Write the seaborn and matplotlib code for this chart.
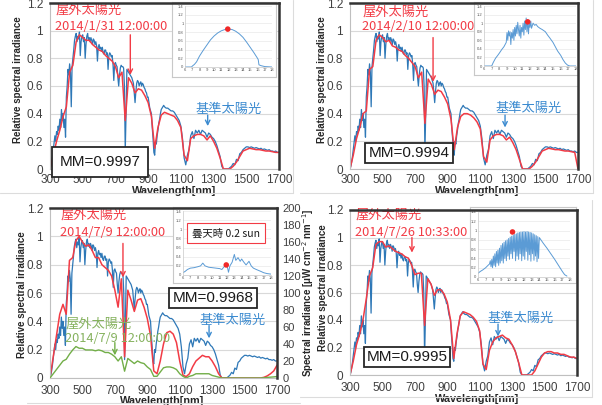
import matplotlib
matplotlib.use('Agg')
import matplotlib.pyplot as plt
import seaborn as sns
from matplotlib.lines import Line2D

sns.set_theme(style='white')
plt.rcParams['font.family'] = ['Liberation Sans', 'DejaVu Sans']
JP = ['Noto Sans CJK JP', 'DejaVu Sans']

# ---- data -------------------------------------------------------------
# reference spectrum (AM1.5, normalised): 5 nm steps to 995 nm, then 10 nm steps
WL_REF = list(range(300, 1000, 5)) + list(range(1000, 1701, 10))
REF = [0.00, 0.02, 0.05, 0.09, 0.14, 0.19, 0.24, 0.20, 0.27, 0.25,
       0.31, 0.28, 0.36, 0.30, 0.43, 0.35, 0.40, 0.30, 0.36, 0.23,
       0.52, 0.60, 0.72, 0.68, 0.76, 0.70, 0.45, 0.74, 0.80, 0.86,
       0.93, 0.96, 0.98, 0.92, 0.96, 0.94, 0.99, 0.82, 0.92, 0.96,
       0.97, 0.92, 0.95, 0.80, 0.90, 0.96, 0.98, 0.93, 0.95, 0.92,
       0.95, 0.93, 0.90, 0.94, 0.93, 0.90, 0.92, 0.89, 0.78, 0.88,
       0.90, 0.87, 0.88, 0.85, 0.88, 0.84, 0.83, 0.86, 0.86, 0.83,
       0.84, 0.72, 0.82, 0.84, 0.83, 0.81, 0.82, 0.76, 0.64, 0.76,
       0.77, 0.75, 0.74, 0.66, 0.60, 0.68, 0.73, 0.75, 0.74, 0.74,
       0.73, 0.60, 0.13, 0.40, 0.72, 0.71, 0.70, 0.69, 0.68, 0.67,
       0.66, 0.64, 0.62, 0.55, 0.48, 0.56, 0.62, 0.64, 0.63, 0.60,
       0.62, 0.63, 0.60, 0.62, 0.61, 0.59, 0.58, 0.56, 0.55, 0.52,
       0.52, 0.48, 0.44, 0.42, 0.40, 0.30, 0.22, 0.12, 0.10, 0.20,
       0.18, 0.24, 0.28, 0.33, 0.36, 0.40, 0.43, 0.44, 0.45, 0.46,
       # 1000 nm onwards, 10 nm steps
       0.45, 0.44, 0.44, 0.43, 0.42, 0.42, 0.41, 0.39, 0.37, 0.35,
       0.31, 0.22, 0.08, 0.03, 0.10, 0.14, 0.24, 0.27, 0.22, 0.28,
       0.26, 0.28, 0.25, 0.28, 0.27, 0.26, 0.23, 0.26, 0.25, 0.23,
       0.22, 0.20, 0.17, 0.13, 0.09, 0.02, 0.00, 0.00, 0.00, 0.00,
       0.01, 0.02, 0.04, 0.03, 0.07, 0.06, 0.11, 0.12, 0.14, 0.15,
       0.16, 0.16, 0.155, 0.16, 0.155, 0.15, 0.155, 0.15, 0.145, 0.15,
       0.14, 0.145, 0.14, 0.135, 0.14, 0.13, 0.13, 0.125, 0.13, 0.12,
       0.12]

# outdoor spectra, every 20 nm from 300 to 1700
WL_OUT = list(range(300, 1701, 20))
RED_0131 = [0.00, 0.10, 0.20, 0.28, 0.38, 0.45, 0.70, 0.75, 0.92, 0.97,
            0.95, 0.93, 0.93, 0.90, 0.88, 0.86, 0.85, 0.82, 0.80, 0.78,
            0.74, 0.66, 0.70, 0.35, 0.66, 0.62, 0.55, 0.58, 0.57, 0.53,
            0.48, 0.38, 0.15, 0.30, 0.39, 0.41, 0.40, 0.39, 0.38, 0.35,
            0.30, 0.10, 0.06, 0.22, 0.24, 0.25, 0.25, 0.24, 0.21, 0.24,
            0.20, 0.15, 0.08, 0.00, 0.00, 0.00, 0.02, 0.05, 0.09, 0.13,
            0.14, 0.15, 0.145, 0.14, 0.14, 0.135, 0.13, 0.13, 0.125, 0.12,
            0.12]
RED_0210 = [0.00, 0.10, 0.22, 0.30, 0.40, 0.42, 0.72, 0.74, 0.93, 0.97,
            0.95, 0.92, 0.93, 0.89, 0.88, 0.86, 0.85, 0.82, 0.80, 0.77,
            0.74, 0.66, 0.70, 0.33, 0.65, 0.61, 0.54, 0.57, 0.56, 0.52,
            0.47, 0.36, 0.14, 0.30, 0.38, 0.40, 0.40, 0.39, 0.37, 0.34,
            0.29, 0.09, 0.05, 0.21, 0.24, 0.25, 0.25, 0.24, 0.21, 0.23,
            0.19, 0.14, 0.07, 0.00, 0.00, 0.00, 0.02, 0.05, 0.09, 0.13,
            0.14, 0.15, 0.145, 0.14, 0.14, 0.135, 0.13, 0.13, 0.125, 0.12,
            0.00]
RED_0709 = [0.00, 0.15, 0.30, 0.45, 0.52, 0.45, 0.83, 0.85, 0.97, 1.00,
            0.96, 0.93, 0.94, 0.90, 0.85, 0.85, 0.80, 0.78, 0.76, 0.72,
            0.62, 0.50, 0.70, 0.15, 0.62, 0.55, 0.47, 0.55, 0.56, 0.50,
            0.42, 0.30, 0.05, 0.03, 0.12, 0.24, 0.32, 0.33, 0.31, 0.25,
            0.12, 0.02, 0.01, 0.03, 0.08, 0.12, 0.14, 0.16, 0.15, 0.15,
            0.12, 0.08, 0.03, 0.00, 0.00, 0.00, 0.00, 0.00, 0.00, 0.00,
            0.00, 0.00, 0.00, 0.00, 0.00, 0.00, 0.005, 0.015, 0.03, 0.05,
            0.09]
# absolute outdoor spectrum 2014/7/9 [uW cm-2 nm-1]
GREEN_0709 = [0, 5, 10, 15, 20, 22, 28, 33, 37, 35,
              35, 33, 33, 33, 32, 33, 32, 30, 30, 28,
              25, 20, 25, 8, 23, 20, 17, 20, 18, 17,
              13, 10, 2, 2, 7, 12, 13, 13, 12, 10,
              5, 2, 0, 2, 3, 5, 5, 5, 5, 5,
              3, 2, 1, 0, 0, 0, 0, 0, 0, 0,
              0, 0, 0, 0, 0, 0, 0.3, 0.7, 1, 1.3,
              1.7]
RED_0726 = [0.00, 0.10, 0.22, 0.30, 0.40, 0.55, 0.72, 0.78, 0.95, 0.97,
            0.97, 0.93, 0.94, 0.92, 0.90, 0.89, 0.88, 0.86, 0.85, 0.80,
            0.73, 0.74, 0.74, 0.36, 0.70, 0.66, 0.58, 0.62, 0.62, 0.59,
            0.53, 0.40, 0.12, 0.30, 0.43, 0.46, 0.45, 0.44, 0.42, 0.39,
            0.32, 0.08, 0.04, 0.18, 0.24, 0.27, 0.28, 0.29, 0.27, 0.26,
            0.22, 0.17, 0.09, 0.00, 0.00, 0.00, 0.00, 0.03, 0.08, 0.13,
            0.16, 0.17, 0.17, 0.16, 0.16, 0.15, 0.15, 0.14, 0.13, 0.13,
            0.12]

# daily irradiance insets (hour, sun)
H_0131 = [6.0, 6.9, 7.0, 7.3, 7.6, 8.0, 8.5, 9.0, 9.5, 10.0, 10.5, 11.0, 11.5, 12.0,
          12.5, 13.0, 13.5, 14.0, 14.5, 15.0, 15.5, 16.0, 16.1, 16.2, 16.5, 17.0, 18.0]
S_0131 = [0.0, 0.0, 0.02, 0.06, 0.12, 0.25, 0.38, 0.50, 0.62, 0.71, 0.78, 0.83, 0.86, 0.87,
          0.86, 0.82, 0.76, 0.68, 0.57, 0.45, 0.33, 0.20, 0.17, 0.05, 0.03, 0.01, 0.0]
H_0210 = [6.0, 7.0, 7.2, 7.5, 7.8, 8.0, 8.3, 8.6, 8.9, 9.0, 9.1, 9.2, 9.3, 9.4, 9.5, 9.6,
          9.7, 9.8, 9.9, 10.0, 10.1, 10.2, 10.3, 10.4, 10.5, 10.6, 10.7, 10.8, 10.9, 11.0,
          11.1, 11.2, 11.3, 11.4, 11.5, 11.6, 11.7, 11.8, 11.9, 12.0, 12.1, 12.2, 12.4,
          12.6, 12.8, 13.0, 13.3, 13.6, 14.0, 14.3, 14.6, 15.0, 15.3, 15.6, 16.0, 16.3,
          16.6, 16.9, 17.2, 18.0]
S_0210 = [0.0, 0.0, 0.08, 0.18, 0.25, 0.30, 0.38, 0.45, 0.55, 0.78, 0.60, 0.82, 0.70, 0.80,
          0.50, 0.78, 0.65, 0.85, 0.60, 0.90, 0.70, 0.95, 0.75, 1.02, 0.85, 0.70, 0.95, 0.65,
          0.90, 0.80, 1.00, 0.72, 1.05, 0.85, 1.12, 0.80, 1.08, 0.75, 1.00, 0.90, 1.05, 0.88,
          1.00, 0.95, 0.97, 0.92, 0.88, 0.85, 0.80, 0.72, 0.65, 0.55, 0.45, 0.35, 0.25, 0.15,
          0.07, 0.02, 0.0, 0.0]
H_0709 = [6.0, 6.3, 6.6, 7.0, 7.5, 8.0, 8.4, 8.7, 9.0, 9.5, 10.0, 10.5, 11.0, 11.3, 11.6,
          12.0, 12.2, 12.4, 12.7, 13.0, 13.2, 13.5, 13.8, 14.0, 14.3, 14.6, 15.0, 15.3,
          15.6, 16.0, 16.3, 16.6, 17.0, 17.5, 18.0]
S_0709 = [0.05, 0.08, 0.12, 0.15, 0.16, 0.18, 0.20, 0.26, 0.20, 0.17, 0.16, 0.15, 0.14,
          0.12, 0.18, 0.22, 0.06, 0.20, 0.28, 0.45, 0.32, 0.38, 0.30, 0.35, 0.28, 0.22,
          0.30, 0.20, 0.15, 0.12, 0.10, 0.08, 0.05, 0.03, 0.02]
H_0726 = [6.0, 6.3, 6.6, 7.0, 7.3, 7.5,
          7.6, 7.7, 7.8, 7.9, 8.0, 8.1, 8.2, 8.3, 8.4, 8.5, 8.6, 8.7, 8.8, 8.9,
          9.0, 9.1, 9.2, 9.3, 9.4, 9.5, 9.6, 9.7, 9.8, 9.9, 10.0, 10.1, 10.2, 10.3,
          10.4, 10.5, 10.6, 10.7, 10.8, 10.9, 11.0, 11.1, 11.2, 11.3, 11.4, 11.5,
          11.6, 11.7, 11.8, 11.9, 12.0, 12.1, 12.2, 12.3, 12.4, 12.5, 12.6, 12.7,
          12.8, 12.9, 13.0, 13.1, 13.2, 13.3, 13.4, 13.5, 13.6, 13.7, 13.8, 13.9,
          14.0, 14.5, 15.0, 15.5, 16.0, 16.5, 17.0, 17.3, 17.6]
S_0726 = [0.08, 0.12, 0.15, 0.20, 0.25, 0.28,
          0.35, 0.22, 0.38, 0.20, 0.45, 0.25, 0.50, 0.22, 0.55, 0.30, 0.58, 0.25, 0.62, 0.30,
          0.68, 0.35, 0.72, 0.30, 0.75, 0.40, 0.78, 0.35, 0.80, 0.45, 0.83, 0.38, 0.86, 0.50,
          0.88, 0.40, 0.90, 0.55, 0.92, 0.35, 0.93, 0.45, 0.95, 0.38, 0.96, 0.50,
          0.97, 0.35, 0.97, 0.45, 0.98, 0.38, 0.97, 0.55, 0.98, 0.36, 0.97, 0.48,
          0.96, 0.34, 0.95, 0.50, 0.93, 0.36, 0.91, 0.45, 0.89, 0.33, 0.87, 0.40,
          0.85, 0.73, 0.62, 0.50, 0.38, 0.25, 0.12, 0.05, 0.02]

DATES = ['2014/1/31 12:00:00', '2014/2/10 12:00:00', '2014/7/9 12:00:00', '2014/7/26 10:33:00']
MM = ['MM=0.9997', 'MM=0.9994', 'MM=0.9968', 'MM=0.9995']
DOTS = [(11.9, 0.87), (11.7, 1.03), (11.9, 0.22), (10.5, 0.97)]

RED = '#F23B45'
BLUE = '#2E78B7'
TBLUE = '#3C8BD0'
LBLUE = '#5B9BD5'
GREEN = '#72AE48'
TGREEN = '#86B25F'
GRAY = '#404040'

W, H = 602, 405


def rect(l, t, r, b):
    return [l / W, 1 - b / H, (r - l) / W, (b - t) / H]


def P(x, y):
    return (x / W, 1 - y / H)


fig = plt.figure(figsize=(6.02, 4.05), dpi=100)


def main_panel(box, red, date, mm, txt, arrows, mmpad, xl, yl, xpad=5):
    ax = fig.add_axes(rect(*box))
    sns.lineplot(x=WL_REF, y=REF, ax=ax, color=BLUE, linewidth=0.9)
    sns.lineplot(x=WL_OUT, y=red, ax=ax, color=RED, linewidth=1.1)
    ax.set_xlim(300, 1700)
    ax.set_ylim(0, 1.2)
    ax.set_xticks(range(300, 1701, 200))
    ax.set_yticks([0, 0.2, 0.4, 0.6, 0.8, 1.0, 1.2])
    ax.set_yticklabels(['0', '0.2', '0.4', '0.6', '0.8', '1', '1.2'])
    ax.tick_params(length=0, labelsize=8.5, labelcolor=GRAY, pad=5)
    ax.tick_params(axis='x', pad=xpad)
    ax.yaxis.grid(True, color='#d9d9d9', lw=0.8)
    ax.set_axisbelow(True)
    for s in ['left', 'bottom']:
        ax.spines[s].set_color('#bfbfbf')
        ax.spines[s].set_linewidth(0.8)
    for s in ['top', 'right']:
        ax.spines[s].set_visible(False)
    ax.set_xlabel('Wavelength[nm]', fontsize=7.8, fontweight='bold', color='#262626')
    ax.xaxis.set_label_coords(*P(*xl), transform=fig.transFigure)
    ax.xaxis.label.set_va('center')
    ax.set_ylabel('Relative spectral irradiance', fontsize=7, fontweight='bold', color='#262626')
    ax.yaxis.set_label_coords(*P(*yl), transform=fig.transFigure)
    ax.yaxis.label.set_va('center')

    (rx, ry), (dx, dy), (bx, by) = txt
    ax.text(*P(rx, ry), '屋外太陽光', transform=fig.transFigure, family=JP,
            fontsize=9.5, color=RED, va='center', ha='left')
    ax.text(*P(dx, dy), date, transform=fig.transFigure, family=JP,
            fontsize=9.2, color=RED, va='center', ha='left')
    ax.text(*P(bx, by), '基準太陽光', transform=fig.transFigure, family=JP,
            fontsize=9.5, color=TBLUE, va='center', ha='left')
    for (x0, y0, y1, c) in arrows:
        ax.annotate('', xy=(x0, y1), xytext=(x0, y0),
                    arrowprops=dict(arrowstyle='->', color=c, lw=1.0,
                                    mutation_scale=8, shrinkA=0, shrinkB=0))
    ax.text(*P(*mm[1]), mm[0], transform=fig.transFigure, ha='center', va='center',
            fontsize=11, color='#1a1a1a', zorder=6,
            bbox=dict(boxstyle='square,pad=%.2f' % mmpad, fc='white', ec='#262626', lw=1.3))
    return ax


def inset(outer, inner, hours, vals, dot):
    bg = fig.add_axes(rect(*outer))
    bg.set_xticks([])
    bg.set_yticks([])
    bg.set_facecolor('white')
    for s in bg.spines.values():
        s.set_color('#c8c8c8')
        s.set_linewidth(0.8)
    ia = fig.add_axes(rect(*inner))
    sns.lineplot(x=hours, y=vals, ax=ia, color=LBLUE, linewidth=0.7)
    sns.scatterplot(x=[dot[0]], y=[dot[1]], ax=ia, color='#F02828', s=16,
                    edgecolor='none', zorder=5)
    ia.set_xlim(6, 18)
    ia.set_ylim(0, 1.4)
    ia.set_xticks(range(6, 19))
    ia.set_yticks([0, 0.2, 0.4, 0.6, 0.8, 1.0, 1.2, 1.4])
    ia.set_yticklabels(['0', '0.2', '0.4', '0.6', '0.8', '1', '1.2', '1.4'])
    ia.tick_params(length=0, labelsize=3, labelcolor='#555555', pad=1)
    ia.yaxis.grid(True, color='#e3e3e3', lw=0.4)
    ia.set_axisbelow(True)
    for s in ['top', 'right']:
        ia.spines[s].set_visible(False)
    for s in ['left', 'bottom']:
        ia.spines[s].set_color('#c8c8c8')
        ia.spines[s].set_linewidth(0.5)
    ia.set_xlabel('')
    ia.set_ylabel('')
    return ia


def frame(box):
    ov = fig.add_axes(rect(*box))
    ov.set_facecolor('none')
    ov.set_xticks([])
    ov.set_yticks([])
    for s in ['left', 'bottom']:
        ov.spines[s].set_visible(False)
    for s in ['top', 'right']:
        ov.spines[s].set_color('#333333')
        ov.spines[s].set_linewidth(1.8)


# ---- panel 1 : 2014/1/31 ----
B1 = (50, 3, 279, 169)
main_panel(B1, RED_0131, DATES[0], (MM[0], (100, 162)),
           [(55, 10), (55, 27), (195, 109)],
           [(791, 0.97, 0.68, RED), (1264, 0.39, 0.31, TBLUE)],
           0.50, (174, 191.5), (18, 80), xpad=3.5)
inset((172, 2, 276, 77), (185, 6, 272, 67), H_0131, S_0131, DOTS[0])
frame(B1)

# ---- panel 2 : 2014/2/10 ----
B2 = (350, 3, 578, 169)
main_panel(B2, RED_0210, DATES[1], (MM[1], (409, 153)),
           [(362, 12), (362, 27), (495, 108)],
           [(810, 0.95, 0.63, RED), (1252, 0.39, 0.30, TBLUE)],
           0.22, (477, 191.5), (322, 80), xpad=3.5)
inset((474, 2, 578, 75), (484, 6, 576, 66), H_0210, S_0210, DOTS[1])
frame(B2)

# ---- panel 3 : 2014/7/9 (cloudy) ----
B3 = (50, 208, 277, 378)
ax3 = main_panel(B3, RED_0709, DATES[2], (MM[2], (213, 298)),
                 [(60, 215), (60, 233), (199, 320)],
                 [(750, 0.95, 0.71, RED), (1281, 0.37, 0.28, TBLUE),
                  (700, 0.25, 0.16, GREEN)],
                 0.20, (162, 401), (22, 295))
ax3.text(*P(65, 324), '屋外太陽光', transform=fig.transFigure, family=JP,
         fontsize=9.5, color=TGREEN, va='center', ha='left')
ax3.text(*P(65, 338), DATES[2], transform=fig.transFigure, family=JP,
         fontsize=9.2, color=TGREEN, va='center', ha='left')
ax3r = ax3.twinx()
sns.lineplot(x=WL_OUT, y=GREEN_0709, ax=ax3r, color=GREEN, linewidth=1.0)
ax3r.set_ylim(0, 200)
ax3r.set_yticks(range(0, 201, 20))
ax3r.tick_params(length=0, labelsize=8, labelcolor=GRAY, pad=4)
ax3r.grid(False)
for s in ax3r.spines.values():
    s.set_visible(False)
ax3r.set_ylabel('Spectral irradiance [μW cm$^{-2}$ nm$^{-1}$]', fontsize=7,
                fontweight='bold', color='#262626')
ax3r.yaxis.set_label_coords(*P(308, 293), transform=fig.transFigure)
ax3r.yaxis.label.set_va('center')
ia3 = inset((173, 207, 277, 283), (183, 211, 271, 275), H_0709, S_0709, DOTS[2])
ia3.text(*P(226, 233), '曇天時 0.2 sun', transform=fig.transFigure, family=JP,
         fontsize=7.5, color='#1a1a1a', ha='center', va='center',
         bbox=dict(boxstyle='square,pad=0.5', fc='white', ec=RED, lw=0.8))
frame(B3)

# ---- panel 4 : 2014/7/26 ----
B4 = (350, 210, 577, 375)
main_panel(B4, RED_0726, DATES[3], (MM[3], (407, 357)),
           [(355, 215), (355, 233), (488, 318)],
           [(682, 1.00, 0.89, RED), (1213, 0.37, 0.28, TBLUE)],
           0.18, (477, 399), (323, 288))
inset((470, 207, 576, 283), (478, 212, 570, 277), H_0726, S_0726, DOTS[3])
frame(B4)

# light chart-area borders
for xs, ys in [((293, 293), (0, 193)), ((0, 293), (193, 193)),
               ((593, 593), (0, 193)), ((300, 593), (193, 193)),
               ((592, 592), (200, 397)), ((300, 592), (397, 397)),
               ((27, 300), (403, 403))]:
    fig.add_artist(Line2D([x / W for x in xs], [1 - y / H for y in ys],
                          color='#dcdcdc', lw=0.8))

fig.savefig('out.png', dpi=100)
